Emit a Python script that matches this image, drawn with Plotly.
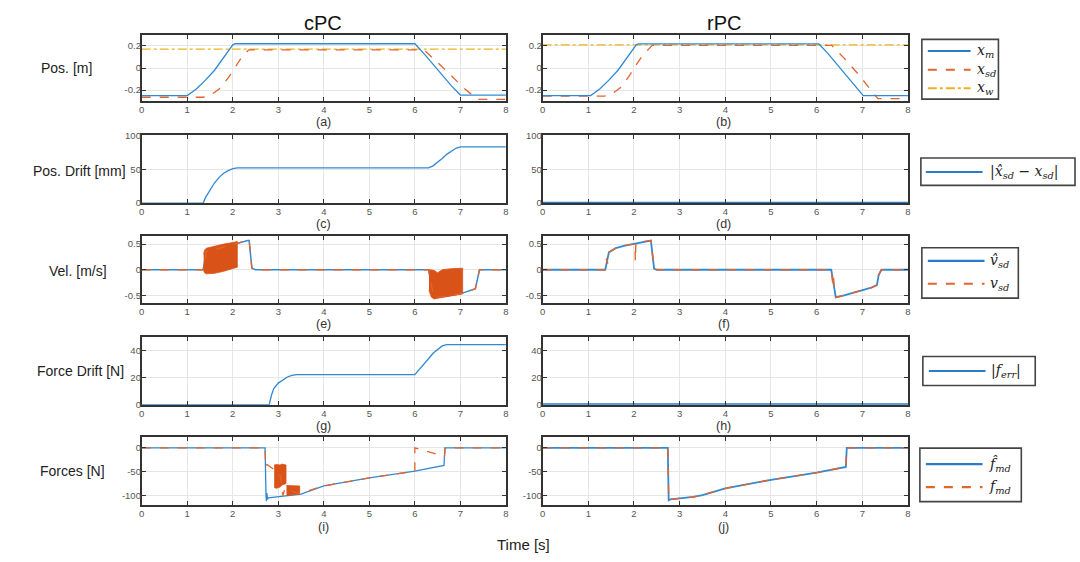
import plotly.graph_objects as go

W, H = 1080, 562

# ---------------- data ----------------
# Row 1: positions [m]
t_xm_c = [0, 1.0, 1.2, 1.4, 1.6, 1.8, 2.0, 2.05, 6.0, 6.2, 6.4, 6.6, 6.8, 7.0, 8.0]
x_m_c = [-0.25, -0.25, -0.19, -0.11, -0.02, 0.09, 0.21, 0.22, 0.22, 0.13, 0.03, -0.07, -0.16, -0.245, -0.245]
t_xsd_c = [0, 1.35, 1.5, 1.7, 1.9, 2.0, 2.2, 2.35, 6.2, 6.5, 6.8, 7.1, 7.38, 8.0]
x_sd_c = [-0.265, -0.265, -0.25, -0.19, -0.09, -0.03, 0.10, 0.165, 0.165, 0.05, -0.07, -0.19, -0.285, -0.285]
t_xw = [0, 8]
x_w_c = [0.172, 0.172]

t_xm_r = [0, 1.05, 1.25, 1.45, 1.65, 1.85, 2.05, 2.1, 6.05, 6.25, 6.45, 6.65, 6.85, 7.02, 8.0]
x_m_r = [-0.25, -0.25, -0.19, -0.11, -0.02, 0.09, 0.21, 0.218, 0.218, 0.13, 0.03, -0.07, -0.16, -0.25, -0.25]
t_xsd_r = [0, 1.35, 1.5, 1.7, 1.9, 2.0, 2.2, 2.4, 6.33, 6.6, 6.9, 7.15, 7.34, 8.0]
x_sd_r = [-0.255, -0.255, -0.24, -0.18, -0.07, 0.0, 0.12, 0.205, 0.205, 0.09, -0.05, -0.18, -0.278, -0.278]
x_w_r = [0.209, 0.209]

# Row 2: position drift [mm]
t_dr_c = [0, 1.35, 1.4, 1.5, 1.6, 1.7, 1.8, 1.9, 2.0, 2.1, 6.3, 6.4, 6.5, 6.6, 6.7, 6.8, 6.9, 7.0, 8.0]
drift_c = [0, 0, 8, 20, 30, 38, 44, 48, 51, 52, 52, 55, 60, 66, 72, 77, 81, 83, 83]
t_dr_r = [0, 8]
drift_r = [0.6, 0.6]

# Row 3: velocities [m/s]
t_v_c = [0, 1.35, 1.42, 2.08, 2.33, 2.36, 2.42, 2.5, 6.3, 6.42, 7.0, 7.33, 7.37, 7.42, 8]
vhat_c = [0, 0, 0.35, 0.52, 0.57, 0.57, 0.03, 0, 0, -0.55, -0.47, -0.37, -0.2, 0, 0]
vsd_c = [0, 0, 0.35, 0.52, 0.57, 0.57, 0.03, 0, 0, -0.55, -0.47, -0.37, -0.2, 0, 0]
# envelopes of the dense v_sd oscillation (cPC)
band1_t = [1.36, 1.38, 1.42, 1.6, 1.8, 2.0, 2.1]
band1_hi = [0.30, 0.38, 0.42, 0.46, 0.50, 0.53, 0.55]
band1_lo = [-0.02, -0.06, -0.08, -0.07, -0.03, 0.02, 0.05]
band2_t = [6.31, 6.36, 6.42, 6.5, 6.6, 6.8, 7.0, 7.05]
band2_hi = [0.0, 0.0, -0.01, -0.06, 0.0, 0.02, 0.03, 0.03]
band2_lo = [-0.40, -0.53, -0.57, -0.56, -0.54, -0.51, -0.48, -0.47]

t_v_r = [0, 1.37, 1.45, 1.6, 1.8, 2.0, 2.2, 2.34, 2.37, 2.44, 2.5, 6.32, 6.42, 6.6, 6.8, 7.0, 7.2, 7.32, 7.36, 7.42, 8]
vhat_r = [0, 0, 0.34, 0.42, 0.47, 0.51, 0.55, 0.57, 0.57, 0.02, 0, 0, -0.54, -0.5, -0.45, -0.4, -0.35, -0.3, -0.1, 0, 0]
t_vsd_r = [0, 1.37, 1.40, 1.42, 1.45, 1.6, 1.8, 2.0, 2.02, 2.03, 2.04, 2.2, 2.34, 2.37, 2.44, 2.5,
           6.32, 6.35, 6.37, 6.39, 6.42, 6.6, 6.8, 7.0, 7.2, 7.32, 7.36, 7.42, 8]
vsd_r = [0, 0, 0.22, 0.12, 0.34, 0.42, 0.47, 0.51, 0.51, 0.17, 0.51, 0.55, 0.57, 0.57, 0.02, 0,
         0, -0.25, -0.12, -0.45, -0.54, -0.5, -0.45, -0.4, -0.35, -0.3, -0.1, 0, 0]

# Row 4: force drift [N]
t_fd_c = [0, 2.8, 2.85, 2.9, 3.0, 3.1, 3.2, 3.3, 3.4, 6.0, 6.1, 6.2, 6.3, 6.4, 6.5, 6.6, 6.7, 8]
fdrift_c = [0, 0, 7, 12, 16, 18.5, 20.5, 21.7, 22.3, 22.3, 26, 30, 34, 38, 41, 43.5, 44.5, 44.5]
t_fd_r = [0, 8]
fdrift_r = [0.4, 0.4]

# Row 5: forces [N]
t_fh_c = [0, 2.71, 2.73, 2.74, 2.75, 2.76, 2.78, 3.5, 4.0, 5.0, 6.0, 6.64, 6.66, 8]
fhat_c = [0, 0, -100, -112, -95, -108, -105, -97, -80, -63, -49, -37, 0, 0]
t_fmd_c = [0, 2.71, 2.72, 2.75, 2.9, 2.95, 3.05, 3.1, 3.15, 3.45, 4.0, 5.0, 6.0, 6.0, 6.65, 6.67, 8]
fmd_c = [0, 0, -40, -35, -45, -45, -60, -100, -85, -96, -80, -63, -49, 0, -18, 0, 0]
blockA_t = [2.91, 2.96, 3.04, 3.08, 3.17]
blockA_hi = [-36, -35, -36, -34, -36]
blockA_lo = [-83, -85, -82, -78, -75]
blockB_t = [3.18, 3.3, 3.47]
blockB_hi = [-79, -79, -80]
blockB_lo = [-100, -99, -97]

t_f_r = [0, 2.74, 2.76, 2.8, 3.0, 3.3, 3.5, 4.0, 5.0, 6.0, 6.64, 6.66, 8]
fhat_r = [0, 0, -110, -108, -106, -103, -99, -85, -67, -52, -40, 0, 0]
fmd_r = [0, 0, -110, -108, -106, -103, -99, -85, -67, -52, -40, 0, 0]

x_ticks = [0, 1, 2, 3, 4, 5, 6, 7, 8]
y_ticks = [[-0.2, 0, 0.2], [0, 50, 100], [-0.5, 0, 0.5], [0, 20, 40], [-100, -50, 0]]
y_ticktext = [["-0.2", "0", "0.2"], ["0", "50", "100"], ["-0.5", "0", "0.5"], ["0", "20", "40"], ["-100", "-50", "0"]]
y_ranges = [[-0.3, 0.3], [0, 100], [-0.65, 0.65], [0, 50], [-120, 22]]
row_labels = ["Pos. [m]", "Pos. Drift [mm]", "Vel. [m/s]", "Force Drift [N]", "Forces [N]"]
col_titles = ["cPC", "rPC"]
panel_letters = ["(a)", "(b)", "(c)", "(d)", "(e)", "(f)", "(g)", "(h)", "(i)", "(j)"]

# legend texts per row
legend_texts = [
    ["<i>x</i><sub><i>m</i></sub>", "<i>x</i><sub><i>sd</i></sub>", "<i>x</i><sub><i>w</i></sub>"],
    ["|<i>x̂</i><sub><i>sd</i></sub> − <i>x</i><sub><i>sd</i></sub>|"],
    ["<i>v̂</i><sub><i>sd</i></sub>", "<i>v</i><sub><i>sd</i></sub>"],
    ["|<i>f</i><sub><i>err</i></sub>|"],
    ["<i>f̂</i><sub><i>md</i></sub>", "<i>f</i><sub><i>md</i></sub>"],
]

# ---------------- style ----------------
BLUE = "#3289d3"
LBLUE = "#2a7cc6"
ORANGE = "#e0652e"
BAND = "#d95319"
YELLOW = "#EDB120"
FRAME = "#333333"

xdom = [[139.5 / W, 505.7 / W], [542.7 / W, 910 / W]]
rows_px = [(29.5, 97), (132, 201), (235, 303), (337.7, 406.7), (440, 509)]

fig = go.Figure()


def ax_id(r, c):
    return r * 2 + c + 1


def add_line(x, y, r, c, name, color, dash="solid", width=1.3):
    k = ax_id(r, c)
    fig.add_trace(go.Scatter(
        x=x, y=y, mode="lines", name=name,
        line=dict(color=color, dash=dash, width=width),
        xaxis="x" if k == 1 else f"x{k}", yaxis="y" if k == 1 else f"y{k}",
        showlegend=False, hoverinfo="skip"))


def add_band(t, hi, lo, r, c):
    k = ax_id(r, c)
    fig.add_trace(go.Scatter(
        x=list(t) + list(t)[::-1], y=list(hi) + list(lo)[::-1],
        mode="lines", fill="toself", fillcolor=BAND,
        line=dict(color=BAND, width=0.8),
        xaxis="x" if k == 1 else f"x{k}", yaxis="y" if k == 1 else f"y{k}",
        showlegend=False, hoverinfo="skip"))


# Row 1
for c, (txm, xm, txs, xs, xw) in enumerate([(t_xm_c, x_m_c, t_xsd_c, x_sd_c, x_w_c),
                                            (t_xm_r, x_m_r, t_xsd_r, x_sd_r, x_w_r)]):
    add_line(t_xw, xw, 0, c, "x_w", YELLOW, "dashdot", 1.3)
    add_line(txs, xs, 0, c, "x_sd", ORANGE, "dash", 1.3)
    add_line(txm, xm, 0, c, "x_m", BLUE, "solid", 1.3)

# Row 2
add_line(t_dr_c, drift_c, 1, 0, "drift", BLUE, "solid", 1.3)
add_line(t_dr_r, drift_r, 1, 1, "drift", LBLUE, "solid", 2)

# Row 3
add_line(t_v_c, vhat_c, 2, 0, "vhat", BLUE, "solid", 1.5)
add_band(band1_t, band1_hi, band1_lo, 2, 0)
add_band(band2_t, band2_hi, band2_lo, 2, 0)
add_line(t_v_c, vsd_c, 2, 0, "vsd", ORANGE, "dash", 1.3)
add_line(t_v_r, vhat_r, 2, 1, "vhat", BLUE, "solid", 1.8)
add_line(t_vsd_r, vsd_r, 2, 1, "vsd", ORANGE, "dash", 1.4)

# Row 4
add_line(t_fd_c, fdrift_c, 3, 0, "ferr", BLUE, "solid", 1.3)
add_line(t_fd_r, fdrift_r, 3, 1, "ferr", LBLUE, "solid", 2)

# Row 5
add_line(t_fh_c, fhat_c, 4, 0, "fhat", BLUE, "solid", 1.3)
add_band(blockA_t, blockA_hi, blockA_lo, 4, 0)
add_band(blockB_t, blockB_hi, blockB_lo, 4, 0)
add_line(t_fmd_c, fmd_c, 4, 0, "fmd", ORANGE, "dash", 1.3)
add_line(t_f_r, fhat_r, 4, 1, "fhat", BLUE, "solid", 1.8)
add_line(t_f_r, fmd_r, 4, 1, "fmd", ORANGE, "dash", 1.4)

# ---------------- axes ----------------
layout = {}
for r in range(5):
    top, bot = rows_px[r]
    ydom = [1 - bot / H, 1 - top / H]
    for c in range(2):
        k = ax_id(r, c)
        xk = "xaxis" if k == 1 else f"xaxis{k}"
        yk = "yaxis" if k == 1 else f"yaxis{k}"
        common = dict(showline=True, linecolor=FRAME, linewidth=1.8, mirror="ticks",
                      ticks="inside", ticklen=4, tickwidth=1.2, tickcolor=FRAME,
                      showgrid=True, gridcolor="#e6e6e6", gridwidth=1, zeroline=False,
                      tickfont=dict(family="Liberation Sans", size=9.5, color="#555"))
        layout[xk] = dict(domain=xdom[c], anchor="y" if k == 1 else f"y{k}", range=[0, 8],
                          tickvals=x_ticks, ticktext=[str(v) for v in x_ticks],
                          ticklabelstandoff=-1, **common)
        layout[yk] = dict(domain=ydom, anchor="x" if k == 1 else f"x{k}", range=y_ranges[r],
                          tickvals=y_ticks[r], ticktext=y_ticktext[r],
                          ticklabelstandoff=-3, **common)
fig.update_layout(**layout)

# ---------------- legends (boxes with line samples and labels) ----------------
legend_specs = [
    dict(box=(924, 1001, 34, 95), lx=(930, 973), tx=977, ys=[46, 65, 84],
         styles=[(LBLUE, "solid", 2), (ORANGE, "dash", 2), (YELLOW, "dashdot", 2)]),
    dict(box=(923, 1078, 155, 183), lx=(928, 985), tx=990, ys=[169.3],
         styles=[(LBLUE, "solid", 2)]),
    dict(box=(924, 1021, 246.5, 298), lx=(930, 987), tx=991, ys=[260, 283.3],
         styles=[(LBLUE, "solid", 2.2), (ORANGE, "dash", 2.2)]),
    dict(box=(925, 1038, 357.5, 387), lx=(931, 988), tx=992, ys=[372.3],
         styles=[(LBLUE, "solid", 2)]),
    dict(box=(922, 1024, 451, 505.5), lx=(928, 985), tx=989, ys=[467.3, 490.7],
         styles=[(LBLUE, "solid", 2.2), (ORANGE, "dash", 2.2)]),
]
shapes = []
ann = []
for spec, texts in zip(legend_specs, legend_texts):
    x0, x1, y0, y1 = spec["box"]
    shapes.append(dict(type="rect", xref="paper", yref="paper", x0=x0 / W, x1=x1 / W,
                       y0=1 - y1 / H, y1=1 - y0 / H, line=dict(color="#444", width=1.6),
                       fillcolor="white", layer="above"))
    for yy, (col, dash, wd), txt in zip(spec["ys"], spec["styles"], texts):
        shapes.append(dict(type="line", xref="paper", yref="paper",
                           x0=spec["lx"][0] / W, x1=spec["lx"][1] / W,
                           y0=1 - yy / H, y1=1 - yy / H,
                           line=dict(color=col, width=wd, dash=dash), layer="above"))
        ann.append(dict(text=txt, x=spec["tx"] / W, y=1 - yy / H, xref="paper", yref="paper",
                        showarrow=False, xanchor="left", yanchor="middle",
                        font=dict(family="DejaVu Serif", size=14, color="#222")))

for c, (title, cx) in enumerate(zip(col_titles, [322, 725])):
    ann.append(dict(text=title, x=cx / W, y=1 - 17 / H, xref="paper", yref="paper",
                    showarrow=False, font=dict(family="Liberation Sans", size=20, color="#111"),
                    xanchor="center", yanchor="middle"))
for r, (lab, lx, ly) in enumerate(zip(row_labels, [64, 77, 75, 78, 70], [63, 168, 270, 372, 474])):
    ann.append(dict(text=lab, x=lx / W, y=1 - ly / H, xref="paper", yref="paper", showarrow=False,
                    font=dict(family="Liberation Sans", size=14, color="#222"),
                    xanchor="center", yanchor="middle"))
for i, letter in enumerate(panel_letters):
    r, c = divmod(i, 2)
    ly = [118, 222, 324, 428, 531][r]
    ann.append(dict(text=letter, x=[322, 725][c] / W, y=1 - ly / H, xref="paper", yref="paper",
                    showarrow=False, font=dict(family="Liberation Sans", size=12.5, color="#333"),
                    xanchor="center", yanchor="middle"))
ann.append(dict(text="Time [s]", x=523 / W, y=1 - 549 / H, xref="paper", yref="paper", showarrow=False,
                font=dict(family="Liberation Sans", size=15, color="#222"),
                xanchor="center", yanchor="middle"))

fig.update_layout(annotations=ann, shapes=shapes, width=W, height=H,
                  margin=dict(l=0, r=0, t=0, b=0), showlegend=False,
                  paper_bgcolor="white", plot_bgcolor="white")

fig.write_html("out.html", config={"displayModeBar": False},
               post_script="document.body.style.margin='0px';document.body.style.overflow='hidden';")
